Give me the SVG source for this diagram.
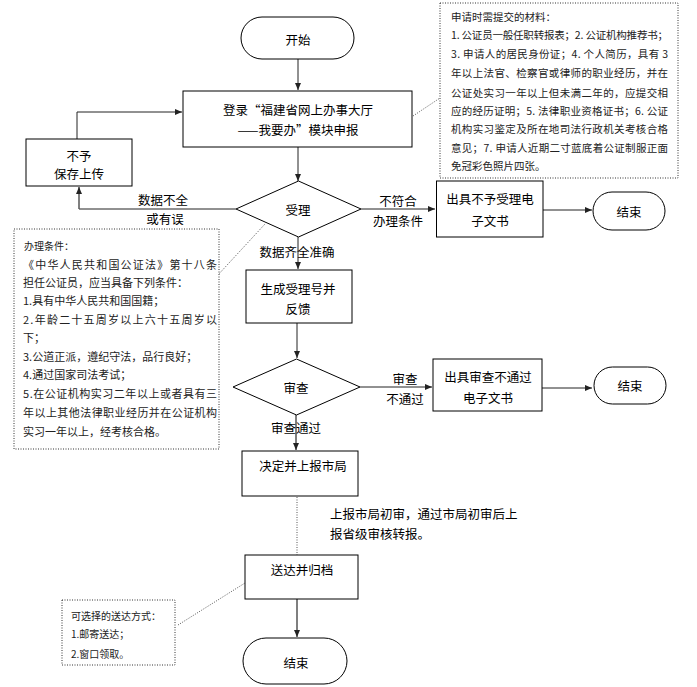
<svg xmlns="http://www.w3.org/2000/svg" width="697" height="687" viewBox="0 0 697 687">
<defs>
<marker id="arr" markerWidth="8" markerHeight="8" refX="7" refY="4" orient="auto" markerUnits="userSpaceOnUse">
<path d="M0,1 L7,4 L0,7 Z" fill="#222"/>
</marker>
<style>
text{font-family:"Noto Sans CJK SC","Noto Sans CJK JP",sans-serif;fill:#000;}
.t{font-size:12.5px;text-anchor:middle;dominant-baseline:central;}
.tl{font-size:12.5px;dominant-baseline:central;}
.n1{font-size:10.5px;dominant-baseline:central;fill:#222;}
.n2{font-size:11px;dominant-baseline:central;fill:#222;}
.n3{font-size:10px;dominant-baseline:central;fill:#222;}
.box{fill:#fff;stroke:#000;stroke-width:1;}
.note{fill:#fff;stroke:#333;stroke-width:1;stroke-dasharray:1 1.5;}
.dot{fill:none;stroke:#555;stroke-width:1;stroke-dasharray:1 1.5;}
.ln{fill:none;stroke:#222;stroke-width:1;}
.lg{fill:none;stroke:#555;stroke-width:1.5;}
</style>
</defs>
<rect width="697" height="687" fill="#fff"/>

<g id="connectors">
<path class="ln" d="M298,59 V90" marker-end="url(#arr)"/>
<path class="ln" d="M298,147 V181" marker-end="url(#arr)"/>
<path class="ln" d="M77,139 V112 H182" marker-end="url(#arr)"/>
<path class="ln" d="M236,209 H79"/>
<path class="lg" d="M79,209 V187" marker-end="url(#arr)"/>
<path class="ln" d="M361,209 H435" marker-end="url(#arr)"/>
<path class="ln" d="M543,210 H592" marker-end="url(#arr)"/>
<path class="ln" d="M298,237 V269" marker-end="url(#arr)"/>
<path class="ln" d="M297,323 V358" marker-end="url(#arr)"/>
<path class="ln" d="M360,387 H432" marker-end="url(#arr)"/>
<path class="ln" d="M542,388 H592" marker-end="url(#arr)"/>
<path class="lg" d="M296,415 V450" marker-end="url(#arr)"/>
<path class="dot" d="M297,497 V555"/>
<path class="lg" d="M297,599 V637" marker-end="url(#arr)"/>
<path class="dot" d="M413,116 L440,98"/>
<path class="dot" d="M217,276 L265,224"/>
<path class="dot" d="M178,625 L245,583"/>
<text class="t" x="163" y="199">数据不全</text>
<text class="t" x="165" y="218">或有误</text>
<text class="t" x="398" y="200">不符合</text>
<text class="t" x="398" y="220">办理条件</text>
<text class="t" x="297" y="251">数据齐全准确</text>
<text class="t" x="405" y="378">审查</text>
<text class="t" x="405" y="398">不通过</text>
<text class="t" x="296" y="427">审查通过</text>
</g>

<g id="start">
<rect class="box" x="241" y="17" width="113" height="42" rx="21"/>
<text class="t" x="298" y="39">开始</text>
</g>

<g id="login">
<rect class="box" x="183" y="91" width="229" height="56"/>
<text class="t" x="298" y="109">登录“福建省网上办事大厅</text>
<text class="t" x="298" y="129">——我要办”模块申报</text>
</g>

<g id="reject-save">
<rect class="box" x="26" y="139" width="106" height="47"/>
<text class="t" x="79" y="155">不予</text>
<text class="t" x="79" y="173">保存上传</text>
</g>

<g id="accept">
<polygon class="box" points="298.5,181 361,209 298.5,237 236,209"/>
<text class="t" x="298" y="209">受理</text>
</g>

<g id="not-accept-doc">
<rect class="box" x="436.5" y="181" width="106.5" height="56"/>
<text class="t" x="490" y="198">出具不予受理电</text>
<text class="t" x="490" y="220">子文书</text>
</g>

<g id="end1">
<rect class="box" x="593" y="192" width="72" height="38" rx="19"/>
<text class="t" x="629" y="211">结束</text>
</g>

<g id="note-materials">
<rect class="note" x="440" y="3" width="238" height="175"/>
<text class="n1" x="451" y="16">申请时需提交的材料：</text>
<text class="n1" x="451" y="34" textLength="217" lengthAdjust="spacing">1. 公证员一般任职转报表；2. 公证机构推荐书；</text>
<text class="n1" x="451" y="53" textLength="217" lengthAdjust="spacing">3. 申请人的居民身份证；4. 个人简历，具有 3</text>
<text class="n1" x="451" y="72" textLength="217" lengthAdjust="spacing">年以上法官、检察官或律师的职业经历，并在</text>
<text class="n1" x="451" y="92" textLength="217" lengthAdjust="spacing">公证处实习一年以上但未满二年的，应提交相</text>
<text class="n1" x="451" y="110" textLength="217" lengthAdjust="spacing">应的经历证明；5. 法律职业资格证书；6. 公证</text>
<text class="n1" x="451" y="128" textLength="217" lengthAdjust="spacing">机构实习鉴定及所在地司法行政机关考核合格</text>
<text class="n1" x="451" y="147" textLength="217" lengthAdjust="spacing">意见；7. 申请人近期二寸蓝底着公证制服正面</text>
<text class="n1" x="451" y="165">免冠彩色照片四张。</text>
</g>

<g id="note-conditions">
<rect class="note" x="14" y="229" width="205" height="220"/>
<text class="n3" x="24" y="245">办理条件：</text>
<text class="n2" x="23" y="264" textLength="194" lengthAdjust="spacing">《中华人民共和国公证法》第十八条</text>
<text class="n2" x="23" y="282">担任公证员，应当具备下列条件：</text>
<text class="n2" x="23" y="300">1.具有中华人民共和国国籍；</text>
<text class="n2" x="23" y="319" textLength="194" lengthAdjust="spacing">2.年龄二十五周岁以上六十五周岁以</text>
<text class="n2" x="23" y="337">下；</text>
<text class="n2" x="23" y="356">3.公道正派，遵纪守法，品行良好；</text>
<text class="n2" x="23" y="374">4.通过国家司法考试；</text>
<text class="n2" x="23" y="393" textLength="194" lengthAdjust="spacing">5.在公证机构实习二年以上或者具有三</text>
<text class="n2" x="23" y="412" textLength="194" lengthAdjust="spacing">年以上其他法律职业经历并在公证机构</text>
<text class="n2" x="23" y="431">实习一年以上，经考核合格。</text>
</g>

<g id="gen-number">
<rect class="box" x="246" y="270" width="106" height="53"/>
<text class="t" x="298" y="288">生成受理号并</text>
<text class="t" x="298" y="308">反馈</text>
</g>

<g id="review">
<polygon class="box" points="296.5,359 360,387 296.5,415 233,387"/>
<text class="t" x="296" y="387">审查</text>
</g>

<g id="review-fail-doc">
<rect class="box" x="433" y="359" width="109" height="52"/>
<text class="t" x="488" y="376">出具审查不通过</text>
<text class="t" x="488" y="397">电子文书</text>
</g>

<g id="end2">
<rect class="box" x="594" y="367" width="72" height="37" rx="18.5"/>
<text class="t" x="630" y="385">结束</text>
</g>

<g id="decide">
<rect class="box" x="242" y="451" width="116" height="45"/>
<text class="t" x="303" y="465">决定并上报市局</text>
</g>

<g id="report-note">
<text class="tl" x="330" y="513">上报市局初审，通过市局初审后上</text>
<text class="tl" x="330" y="533">报省级审核转报。</text>
</g>

<g id="deliver">
<rect class="box" x="245" y="555" width="113" height="44"/>
<text class="t" x="302" y="569">送达并归档</text>
</g>

<g id="note-delivery">
<rect class="note" x="62" y="600" width="113" height="65"/>
<text class="n3" x="71" y="615">可选择的送达方式：</text>
<text class="n3" x="71" y="633">1.邮寄送达；</text>
<text class="n3" x="71" y="653">2.窗口领取。</text>
</g>

<g id="end3">
<rect class="box" x="243" y="638" width="104" height="46" rx="23"/>
<text class="t" x="296" y="662">结束</text>
</g>
</svg>
